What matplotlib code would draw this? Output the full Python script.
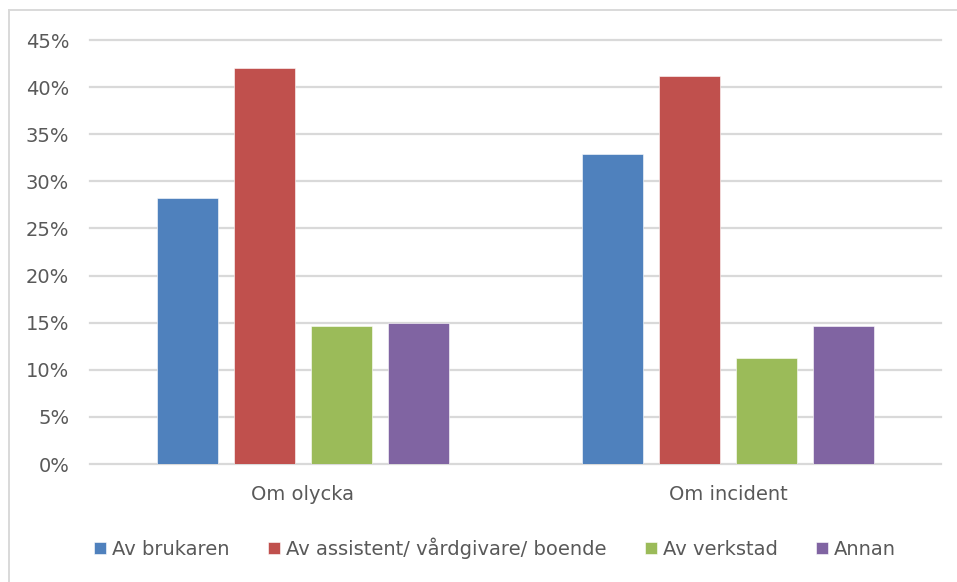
import numpy as np
import matplotlib.pyplot as plt
from matplotlib.lines import Line2D
from matplotlib.ticker import PercentFormatter

categories = ['Om olycka', 'Om incident']
series = ['Av brukaren', 'Av assistent/ vårdgivare/ boende', 'Av verkstad', 'Annan']
values = [
    [28.2, 32.9],
    [42.0, 41.2],
    [14.6, 11.2],
    [15.0, 14.6],
]
colors = ['#4F81BD', '#C0504D', '#9BBB59', '#8064A2']

fig = plt.figure(figsize=(9.57, 5.82), dpi=100)
ax = fig.add_axes([90/957, 1-464/582, (941-90)/957, (464-40)/582])

x = np.arange(len(categories))
step, width = 0.181, 0.143
for i, (name, vals) in enumerate(zip(series, values)):
    ax.bar(x + (i - 1.5)*step, vals, width, color=colors[i], label=name,
           edgecolor='white', linewidth=0.4, zorder=3)

ax.set_xlim(-0.5, 1.5)
ax.set_ylim(0, 45)
ax.set_yticks(np.arange(0, 46, 5))
ax.yaxis.set_major_formatter(PercentFormatter(decimals=0))
ax.grid(axis='y', color='#d9d9d9', linewidth=1.6, zorder=0)
for gl in ax.get_ygridlines():
    gl.set_clip_on(False)
ax.set_xticks(x)
ax.set_xticklabels(categories)
for s in ax.spines.values():
    s.set_visible(False)
ax.tick_params(axis='both', length=0, labelsize=14, labelcolor='#595959')
ax.tick_params(axis='y', pad=15)
ax.tick_params(axis='x', pad=15)

handles, labels = ax.get_legend_handles_labels()
fig.legend(handles, labels, loc='center', bbox_to_anchor=(495/957, 1-548/582),
           ncol=4, frameon=False, fontsize=14, labelcolor='#595959',
           handlelength=0.6, handleheight=0.6, handletextpad=0.3, columnspacing=2.0)

# frame lines along the top and left edge
fig.add_artist(Line2D([9/957, 1], [1-10/582, 1-10/582], color='#d9d9d9', linewidth=1.4))
fig.add_artist(Line2D([9/957, 9/957], [0, 1-10/582], color='#d9d9d9', linewidth=1.4))

fig.savefig('out.png', dpi=100)
